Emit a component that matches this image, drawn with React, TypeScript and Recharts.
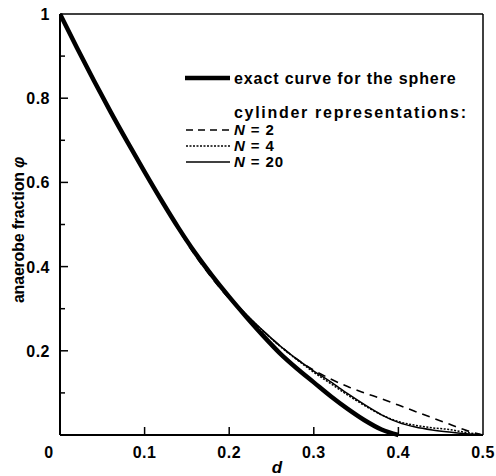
import React from "react";
import { LineChart, Line, XAxis, YAxis, ReferenceLine } from "recharts";

// ── Data ────────────────────────────────────────────────────────────
const sphereD = [0, 0.02, 0.04, 0.06, 0.08, 0.1, 0.12, 0.14, 0.16, 0.18, 0.2, 0.22, 0.24, 0.26, 0.28, 0.3, 0.32, 0.34, 0.36, 0.38, 0.4];
const sphereFrac = [1, 0.92, 0.842, 0.767, 0.695, 0.625, 0.557, 0.492, 0.432, 0.378, 0.328, 0.281, 0.236, 0.194, 0.158, 0.125, 0.092, 0.062, 0.035, 0.013, 0];

const cylD = [0, 0.02, 0.04, 0.06, 0.08, 0.1, 0.12, 0.14, 0.16, 0.18, 0.2, 0.22, 0.24, 0.26, 0.28, 0.3, 0.32, 0.34, 0.36, 0.38, 0.4, 0.42, 0.44, 0.46, 0.48, 0.5];
const n2Frac = [1, 0.92, 0.842, 0.767, 0.695, 0.625, 0.557, 0.488, 0.426, 0.372, 0.324, 0.283, 0.247, 0.212, 0.18, 0.154, 0.133, 0.115, 0.1, 0.086, 0.071, 0.056, 0.041, 0.026, 0.011, 0];
const n4Frac = [1, 0.92, 0.842, 0.767, 0.695, 0.625, 0.557, 0.492, 0.432, 0.378, 0.328, 0.286, 0.247, 0.211, 0.179, 0.149, 0.122, 0.095, 0.07, 0.048, 0.032, 0.023, 0.017, 0.013, 0.006, 0];
const n20Frac = [1, 0.92, 0.842, 0.767, 0.695, 0.625, 0.557, 0.492, 0.432, 0.378, 0.328, 0.287, 0.248, 0.212, 0.18, 0.152, 0.126, 0.098, 0.072, 0.048, 0.03, 0.019, 0.012, 0.007, 0.003, 0];

const xTicks = [0, 0.1, 0.2, 0.3, 0.4, 0.5];
const yTicks = [0, 0.1, 0.2, 0.3, 0.4, 0.5, 0.6, 0.7, 0.8, 0.9, 1];
const yLabels: Record<string, string> = { "1": "1", "0.8": "0.8", "0.6": "0.6", "0.4": "0.4", "0.2": "0.2" };

const toRows = (xs: number[], ys: number[]) => xs.map((d, i) => ({ d, phi: ys[i] }));

const FONT = "'Liberation Sans', Arial, Helvetica, sans-serif";
const W = 496;
const H = 476;

function XTick(props: any) {
  const { x, y, payload } = props;
  const v = payload.value as number;
  const inner = v > 0 && v < 0.5;
  return (
    <g>
      {inner && <line x1={x} y1={y} x2={x} y2={y - 8} stroke="#000" strokeWidth={1.5} />}
      <text
        x={v === 0 ? x - 11 : x}
        y={y + 23}
        textAnchor="middle"
        fontFamily={FONT}
        fontWeight="bold"
        fontSize={16}
        letterSpacing={0.5}
        fill="#000"
      >
        {String(v)}
      </text>
    </g>
  );
}

function YTick(props: any) {
  const { x, y, payload } = props;
  const v = Math.round((payload.value as number) * 10) / 10;
  if (v === 0) return <g />;
  const major = Math.round(v * 10) % 2 === 0;
  const label = yLabels[String(v)];
  return (
    <g>
      {v < 1 && <line x1={x} y1={y} x2={x + (major ? 8 : 5)} y2={y} stroke="#000" strokeWidth={1.5} />}
      {label && (
        <text x={x - 10} y={y + 6} textAnchor="end" fontFamily={FONT} fontWeight="bold" fontSize={16} letterSpacing={0.5} fill="#000">
          {label}
        </text>
      )}
    </g>
  );
}

export default function App() {
  const txt = { fontFamily: FONT, fontWeight: "bold" as const, fontSize: 16, letterSpacing: 0.9, fill: "#000" };
  const ntxt = { ...txt, fontSize: 15 };
  return (
    <div style={{ position: "absolute", left: 0, top: 0, width: W, height: H, background: "#fff" }}>
      <LineChart width={W} height={H} margin={{ top: 14, right: 13, bottom: 0, left: 0 }}>
        <XAxis
          dataKey="d"
          type="number"
          domain={[0, 0.5]}
          ticks={xTicks}
          allowDataOverflow
          height={41}
          tickSize={0}
          tickMargin={0}
          tickLine={false}
          axisLine={{ stroke: "#000", strokeWidth: 2 }}
          tick={<XTick />}
          interval={0}
        />
        <YAxis
          type="number"
          domain={[0, 1]}
          ticks={yTicks}
          width={60}
          tickSize={0}
          tickMargin={0}
          tickLine={false}
          axisLine={{ stroke: "#000", strokeWidth: 2 }}
          tick={<YTick />}
          interval={0}
        />
        <ReferenceLine y={1} stroke="#000" strokeWidth={1.5} />
        <ReferenceLine x={0.5} stroke="#000" strokeWidth={1.5} />
        <Line data={toRows(cylD, n2Frac)} dataKey="phi" type="monotone" stroke="#000" strokeWidth={1.6} strokeDasharray="8 6" dot={false} isAnimationActive={false} />
        <Line data={toRows(cylD, n4Frac)} dataKey="phi" type="monotone" stroke="#000" strokeWidth={1.5} strokeDasharray="2 1.5" dot={false} isAnimationActive={false} />
        <Line data={toRows(cylD, n20Frac)} dataKey="phi" type="monotone" stroke="#000" strokeWidth={1.5} dot={false} isAnimationActive={false} />
        <Line data={toRows(sphereD, sphereFrac)} dataKey="phi" type="monotone" stroke="#000" strokeWidth={4.5} dot={false} isAnimationActive={false} />
      </LineChart>

      {/* legend and axis titles */}
      <svg width={W} height={H} style={{ position: "absolute", left: 0, top: 0, pointerEvents: "none" }}>
        <line x1={185} y1={78} x2={230} y2={78} stroke="#000" strokeWidth={4.5} />
        <text x={234} y={84} {...txt}>exact curve for the sphere</text>
        <text x={234} y={118} {...txt} letterSpacing={1.7}>cylinder representations:</text>
        <line x1={186} y1={130} x2={230} y2={130} stroke="#000" strokeWidth={1.5} strokeDasharray="7 5" />
        <text x={234} y={135} {...ntxt}><tspan fontStyle="italic">N</tspan> = 2</text>
        <line x1={186} y1={146} x2={230} y2={146} stroke="#000" strokeWidth={1.5} strokeDasharray="2 1.5" />
        <text x={234} y={151} {...ntxt}><tspan fontStyle="italic">N</tspan> = 4</text>
        <line x1={186} y1={162} x2={230} y2={162} stroke="#000" strokeWidth={1.5} />
        <text x={234} y={167} {...ntxt}><tspan fontStyle="italic">N</tspan>  =  20</text>
        <text
          transform="translate(24,230) rotate(-90)"
          textAnchor="middle"
          fontFamily={FONT}
          fontWeight="bold"
          fontSize={16}
          letterSpacing={-0.2}
          fill="#000"
        >
          anaerobe fraction  <tspan fontStyle="italic">φ</tspan>
        </text>
        <text x={277} y={473} textAnchor="middle" fontFamily={FONT} fontWeight="bold" fontStyle="italic" fontSize={17} fill="#000">
          d
        </text>
      </svg>
    </div>
  );
}
